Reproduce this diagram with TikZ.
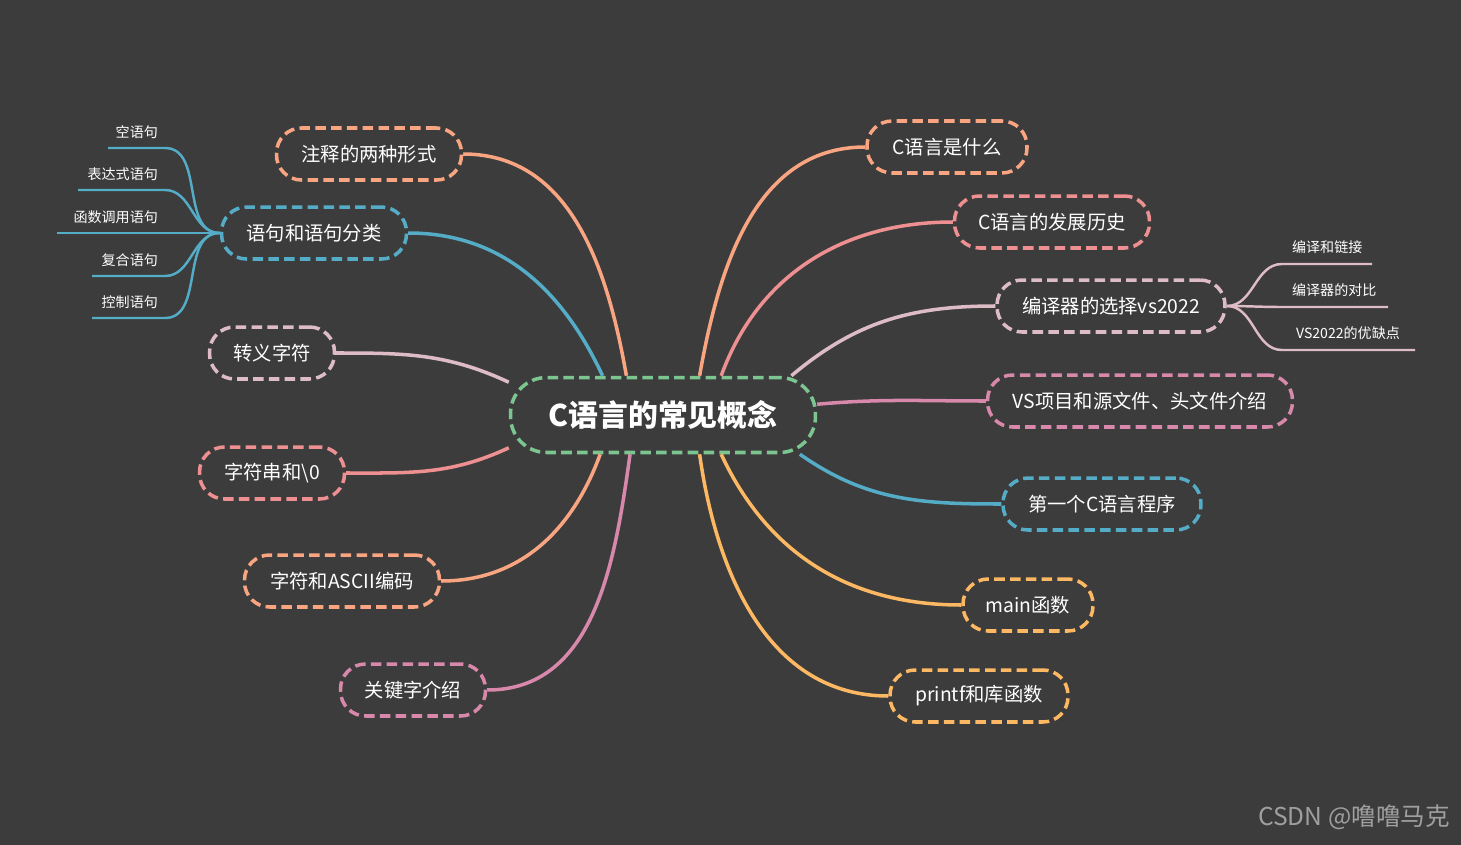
\documentclass[tikz,border=0pt]{standalone}
\usepackage{fontspec}
\setmainfont{Noto Sans CJK SC}
\definecolor{bgc}{HTML}{3C3C3C}
\definecolor{corange}{HTML}{F9A582}
\definecolor{cteal}{HTML}{55ACC6}
\definecolor{clight}{HTML}{DDBCC6}
\definecolor{cred}{HTML}{EE9092}
\definecolor{cmauve}{HTML}{D888AA}
\definecolor{cyellow}{HTML}{FDB863}
\definecolor{cgreen}{HTML}{7CC490}
\begin{document}
\begin{tikzpicture}[x=0.02cm, y=-0.02cm]
  \tikzstyle{topic}=[rectangle, rounded corners=0.5cm, draw, line width=2pt, dash pattern=on 6pt off 3pt,
    text=white, font=\fontsize{11}{13}\selectfont, minimum height=1.04cm]
  \tikzstyle{main}=[topic, rounded corners=0.72cm, draw=cgreen, font=\fontsize{17}{20}\selectfont\bfseries, minimum height=1.5cm, minimum width=6.1cm]
  \tikzstyle{branch}=[line width=2pt, rounded corners=0pt]
  \tikzstyle{leaf}=[text=white, font=\fontsize{8}{10}\selectfont, inner sep=1pt]
  \tikzstyle{twig}=[line width=1.4pt]

  \fill[bgc] (0,0) rectangle (1461,845);

  \node[main] (c) at (663,415) {C语言的常见概念};

  \node[topic, draw=corange, minimum width=3.7cm] (zs) at (369,154) {注释的两种形式};
  \node[topic, draw=cteal,   minimum width=3.7cm] (yj) at (314,233) {语句和语句分类};
  \node[topic, draw=clight,  minimum width=2.5cm] (zy) at (272,353) {转义字符};
  \node[topic, draw=cred,    minimum width=2.9cm] (zf) at (272,473) {字符串和\textbackslash 0};
  \node[topic, draw=corange, minimum width=3.9cm] (as) at (342,581) {字符和ASCII编码};
  \node[topic, draw=cmauve,  minimum width=2.9cm] (gj) at (413,690) {关键字介绍};

  \node[topic, draw=corange, minimum width=3.2cm] (sm) at (947,147) {C语言是什么};
  \node[topic, draw=cred,    minimum width=3.9cm] (fz) at (1052,222) {C语言的发展历史};
  \node[topic, draw=clight,  minimum width=4.56cm] (by) at (1111,306) {编译器的选择vs2022};
  \node[topic, draw=cmauve,  minimum width=6.1cm] (vs) at (1140,401) {VS项目和源文件、头文件介绍};
  \node[topic, draw=cteal,   minimum width=3.96cm] (dy) at (1102,504) {第一个C语言程序};
  \node[topic, draw=cyellow, minimum width=2.6cm] (mn) at (1028,605) {main函数};
  \node[topic, draw=cyellow, minimum width=3.56cm] (pf) at (979,696) {printf和库函数};

  \draw[branch, corange] (c.133) to[out=100, in=0] (zs.east);
  \draw[branch, cteal]   (c.147) to[out=115, in=0] (yj.east);
  \draw[branch, clight]  (c.168) to[out=155, in=0] (zy.east);
  \draw[branch, cred]    (c.192) to[out=205, in=0] (zf.east);
  \draw[branch, corange] (c.212) to[out=250, in=0] (as.east);
  \draw[branch, cmauve]  (c.230) to[out=262, in=0] (gj.east);

  \draw[branch, corange] (c.47)  to[out=80,  in=180] (sm.west);
  \draw[branch, cred]    (c.34)  to[out=70,  in=180] (fz.west);
  \draw[branch, clight]  (c.17)  to[out=40,  in=180] (by.west);
  \draw[branch, cmauve]  (c.4)   to[out=5,   in=180] (vs.west);
  \draw[branch, cteal]   (c.-16) to[out=-35, in=180] (dy.west);
  \draw[branch, cyellow] (c.-34) to[out=-65, in=180] (mn.west);
  \draw[branch, cyellow] (c.-47) to[out=-82, in=180] (pf.west);

  % leaves of yj
  \node[leaf, anchor=south east] (l1) at (160,141) {空语句};
  \node[leaf, anchor=south east] (l2) at (160,183) {表达式语句};
  \node[leaf, anchor=south east] (l3) at (160,226) {函数调用语句};
  \node[leaf, anchor=south east] (l4) at (160,269) {复合语句};
  \node[leaf, anchor=south east] (l5) at (160,311) {控制语句};
  \coordinate (l1a) at (108,148); \coordinate (l1b) at (165,148);
  \coordinate (l2a) at (78,190);  \coordinate (l2b) at (165,190);
  \coordinate (l3a) at (57,233);  \coordinate (l3b) at (165,233);
  \coordinate (l4a) at (92,276);  \coordinate (l4b) at (165,276);
  \coordinate (l5a) at (92,318);  \coordinate (l5b) at (165,318);
  \foreach \i in {1,...,5}
    \draw[twig, cteal] (yj.west) to[out=180, in=0] (l\i b) -- (l\i a);

  % leaves of by
  \node[leaf, anchor=south west] (r1) at (1290,256) {编译和链接};
  \node[leaf, anchor=south west] (r2) at (1290,299) {编译器的对比};
  \node[leaf, anchor=south west] (r3) at (1294,342) {VS2022的优缺点};
  \coordinate (r1a) at (1282,264); \coordinate (r1b) at (1372,264);
  \coordinate (r2a) at (1282,307); \coordinate (r2b) at (1388,307);
  \coordinate (r3a) at (1282,350); \coordinate (r3b) at (1415,350);
  \foreach \i in {1,2,3}
    \draw[twig, clight] (by.east) to[out=0, in=180] (r\i a) -- (r\i b);

  \node[text=gray!75, font=\fontsize{14}{16}\selectfont, anchor=south east] (wm) at (1456,836) {CSDN @噜噜马克};
\end{tikzpicture}
\end{document}
